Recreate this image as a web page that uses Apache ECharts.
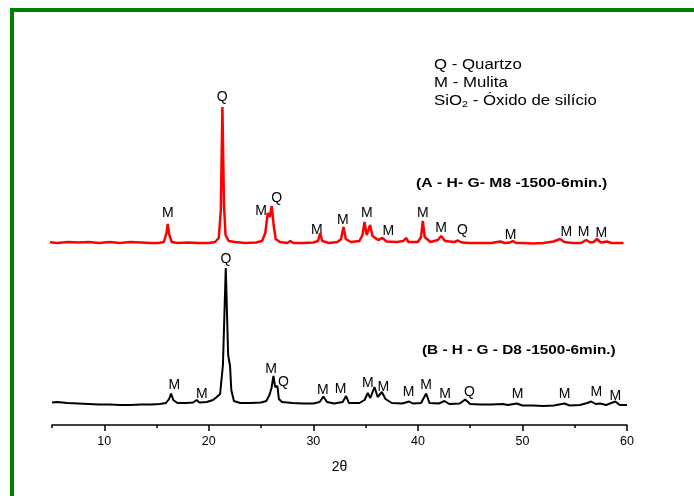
<!DOCTYPE html>
<html>
<head>
<meta charset="utf-8">
<script src="https://cdn.jsdelivr.net/npm/echarts@6/dist/echarts.min.js"></script>
<style>
  html, body { margin: 0; padding: 0; background: #fff; overflow: hidden; }
  #frame {
    position: absolute; left: 10px; top: 8px; width: 800px; height: 600px;
    border-left: 4px solid #008000; border-top: 4px solid #008000;
  }
  #xrd { position: absolute; left: 0; top: 0; width: 694px; height: 496px; }
</style>
</head>
<body>
<div id="frame"></div>
<div id="xrd"></div>
<script>
// difratograma A (vermelho) - [2theta, intensidade]
var serieA = [
  [4.6,183],[5.5,182],[6.5,183],[7.5,182.5],[8.5,183],[9.5,182],[10.5,183],[11.5,182],[12.5,183],[13.5,182.5],
  [14.5,182],[15.2,182],[15.7,183],[15.95,192],[16.07,201],[16.2,191],[16.45,183],[17,182],[18,182.5],[19,182],
  [20,182],[20.6,183],[20.95,187],[21.15,215],[21.3,318],[21.45,220],[21.6,190],[21.9,184],[22.5,183],[23.5,182],
  [24.5,182.5],[25.1,184],[25.4,192],[25.64,212],[25.82,208],[26.02,219],[26.2,200],[26.4,186],[26.8,183],[27.5,182],
  [27.8,184],[28.1,182],[29,182],[30,182.5],[30.45,184],[30.65,192],[30.85,184],[31.5,182],[32.3,183],[32.65,186],
  [32.88,198],[33.1,186],[33.6,183],[34.4,184],[34.7,190],[34.89,203],[35.1,190],[35.25,192],[35.43,200],[35.65,189],
  [36.2,185],[36.6,187],[37,183.5],[38,183],[38.6,184],[38.87,187],[39.1,183],[40,183],[40.3,188],[40.47,204],
  [40.65,188],[41.2,183],[41.9,185],[42.23,189],[42.6,184],[43.5,183],[43.82,184.5],[44.2,182.5],[45,182],[46,182],
  [47,182],[47.87,183.5],[48.3,182],[48.8,182.5],[49.08,184],[49.4,182],[50,182],[51,181.5],[52,182],[52.97,183.5],
  [53.61,186],[54,183],[54.8,182],[55.6,182],[56.1,185],[56.5,182.5],[56.8,183],[57.12,186],[57.5,182.5],[58.07,183.5],
  [58.5,182],[59,182],[59.67,182]
];
// difratograma B (preto)
var serieB = [
  [5,22.5],[5.5,23],[6.5,22],[7.5,21.5],[8.5,21],[9.5,20.5],[10.5,20.5],[11.5,20],[12.5,20],[13.5,20.5],
  [14.5,20.5],[15.3,21],[15.9,22],[16.2,26],[16.39,31.5],[16.6,25],[17,22],[17.8,22],[18.5,22.5],[18.84,25],
  [19.1,22.5],[19.8,23],[20.4,25],[20.76,28],[21.08,31],[21.35,60],[21.62,157],[21.85,70],[22.03,59],[22.15,35],
  [22.4,24],[23,22],[24,22],[25,22.5],[25.5,24],[25.8,30],[26.0,37],[26.18,49],[26.35,38],[26.56,39],
  [26.7,26],[27,23],[28,22],[29,21.5],[30,21.5],[30.6,23],[30.96,28.5],[31.3,23],[32,21.5],[32.8,23],
  [33.13,29],[33.4,22],[34.4,22],[34.9,25],[35.2,32],[35.45,27],[35.85,38],[36.15,28],[36.55,33],[36.9,26],
  [37.5,22],[38.5,21.5],[39.16,23.5],[39.5,21.5],[40.3,22],[40.79,31.5],[41.1,22],[42,21.5],[42.54,24],[43,21],
  [44,21.5],[44.52,25.5],[45,21],[46,20.5],[47,20.5],[48.13,21],[48.6,20],[49.46,21.5],[50,19.5],[51,19.5],
  [52,19],[53,19.5],[54.03,21.5],[54.5,19.5],[55.5,20],[56.2,22],[56.58,23.5],[57,21],[57.44,21.5],[58,20],
  [58.88,23.5],[59.3,20],[60,20]
];
// identificacao dos picos [2theta, intensidade, fase]
var picosA = [
  [16.07,211.7,"M"],[21.27,328,"Q"],[25.0,214,"M"],[26.5,226.7,"Q"],[30.33,195,"M"],[32.82,205,"M"],
  [35.11,212.3,"M"],[37.18,194.3,"M"],[40.47,212.3,"M"],[42.22,197.3,"M"],[44.26,195,"Q"],[48.86,190,"M"],
  [54.19,192.7,"M"],[55.84,192.7,"M"],[57.54,192.3,"M"]
];
var picosB = [
  [21.65,166,"Q"],[16.7,40,"M"],[19.33,31,"M"],[25.96,55.7,"M"],[27.13,43.3,"Q"],[30.9,35,"M"],
  [32.6,35.5,"M"],[35.21,42.3,"M"],[36.7,37.7,"M"],[39.1,32.7,"M"],[40.79,40,"M"],[42.61,30.7,"M"],
  [44.93,33.3,"Q"],[49.53,30.7,"M"],[54.02,30.7,"M"],[57.06,33.3,"M"],[58.88,29.3,"M"]
];
var ticksMaiores = [10, 20, 30, 40, 50, 60];
var ticksMenores = [5, 15, 25, 35, 45, 55];
var legendaFases = ["Q - Quartzo", "M - Mulita"];
var amostraA = "(A - H- G- M8 -1500-6min.)";
var amostraB = "(B - H - G - D8 -1500-6min.)";

var fonte = "Liberation Sans, Arial, sans-serif";
var myChart = echarts.init(document.getElementById("xrd"));

function rotulos(picos) {
  return picos.map(function (p) { return { value: [p[0], p[1]], name: p[2] }; });
}

var rotuloPico = {
  show: true, position: "inside", formatter: "{b}",
  fontFamily: fonte, fontSize: 14, color: "#000", textBorderWidth: 0
};

var option = {
  animation: false,
  grid: { left: 52, right: 67, top: 45, bottom: 71 },
  xAxis: [
    {
      type: "value", min: 5, max: 60,
      name: "2\u03b8", nameLocation: "middle", nameGap: 35,
      nameTextStyle: { fontFamily: fonte, fontSize: 14, color: "#000" },
      axisLine: { show: true, lineStyle: { color: "#000", width: 1.5 } },
      axisTick: { show: true, length: 6, lineStyle: { color: "#000", width: 1.5 }, customValues: ticksMaiores },
      axisLabel: { fontFamily: fonte, fontSize: 12.5, color: "#000", margin: 10, customValues: ticksMaiores },
      splitLine: { show: false }
    },
    {
      type: "value", min: 5, max: 60, position: "bottom",
      axisLine: { show: false },
      axisTick: { show: true, length: 3, lineStyle: { color: "#000", width: 1.5 }, customValues: ticksMenores },
      axisLabel: { show: false },
      splitLine: { show: false }
    }
  ],
  yAxis: { type: "value", min: 0, max: 380, show: false },
  series: [
    {
      name: "A", type: "line", data: serieA, showSymbol: false, clip: false,
      lineStyle: { color: "#ff0000", width: 2.5 }
    },
    {
      name: "B", type: "line", data: serieB, showSymbol: false,
      lineStyle: { color: "#000", width: 2 }
    },
    { type: "scatter", symbolSize: 0, itemStyle: { opacity: 1 }, data: rotulos(picosA), label: rotuloPico },
    { type: "scatter", symbolSize: 0, itemStyle: { opacity: 1 }, data: rotulos(picosB), label: rotuloPico }
  ],
  graphic: [
    { type: "text", left: 434, top: 58, scaleX: 1.2, style: { text: legendaFases[0], font: "14px " + fonte, fill: "#000" } },
    { type: "text", left: 434, top: 76, scaleX: 1.2, style: { text: legendaFases[1], font: "14px " + fonte, fill: "#000" } },
    {
      type: "text", left: 434, top: 94, scaleX: 1.2,
      style: {
        text: "SiO{s|2} - \u00d3xido de sil\u00edcio",
        font: "14px " + fonte, fill: "#000",
        rich: { s: { fontSize: 9, fontFamily: fonte, fill: "#000", padding: [8, 0, 0, 0] } }
      }
    },
    { type: "text", left: 416, top: 178, scaleX: 1.31, style: { text: amostraA, font: "bold 12px " + fonte, fill: "#000" } },
    { type: "text", left: 422, top: 345, scaleX: 1.28, style: { text: amostraB, font: "bold 12px " + fonte, fill: "#000" } }
  ]
};
myChart.setOption(option);
</script>
</body>
</html>
